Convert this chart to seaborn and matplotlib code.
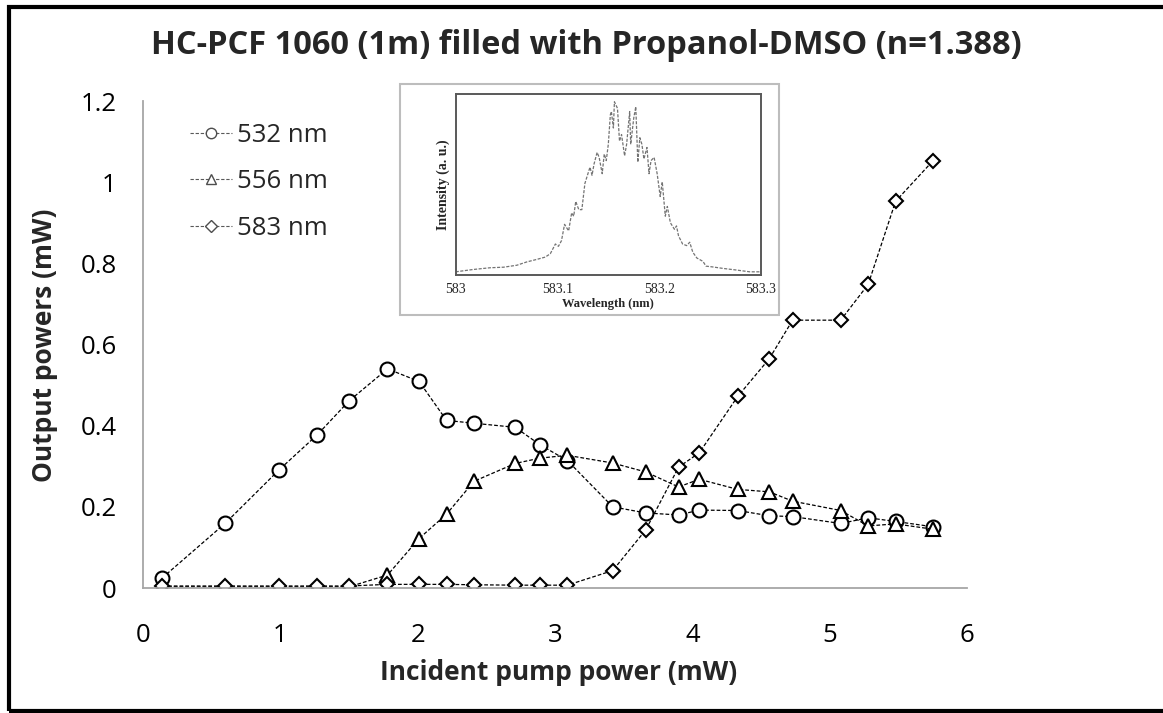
import matplotlib
matplotlib.use("Agg")
import matplotlib.pyplot as plt
from matplotlib.patches import Rectangle
import seaborn as sns
import pandas as pd

# pump power (mW), shared by all three lines
pump = [0.14, 0.60, 0.99, 1.27, 1.50, 1.78, 2.01, 2.21, 2.41, 2.71, 2.89, 3.09,
        3.42, 3.66, 3.90, 4.05, 4.33, 4.56, 4.73, 5.08, 5.28, 5.48, 5.75]
p532 = [0.025, 0.160, 0.291, 0.378, 0.461, 0.540, 0.509, 0.413, 0.406, 0.396, 0.353, 0.314,
        0.200, 0.185, 0.180, 0.192, 0.191, 0.178, 0.176, 0.159, 0.173, 0.164, 0.151]
p556 = [0.003, 0.003, 0.003, 0.003, 0.003, 0.032, 0.122, 0.182, 0.263, 0.307, 0.320, 0.327,
        0.308, 0.286, 0.249, 0.268, 0.243, 0.237, 0.214, 0.191, 0.153, 0.158, 0.145]
p583 = [0.005, 0.005, 0.005, 0.005, 0.005, 0.009, 0.009, 0.009, 0.008, 0.007, 0.007, 0.007,
        0.043, 0.143, 0.298, 0.333, 0.472, 0.565, 0.660, 0.660, 0.748, 0.953, 1.052]
series_names = ["532 nm", "556 nm", "583 nm"]
series_markers = ["o", "^", "D"]
series_sizes = [10, 10, 7.5]

# inset spectrum
wl = [583.000, 583.017, 583.034, 583.047, 583.060, 583.070, 583.079, 583.088, 583.093,
      583.098, 583.101, 583.104, 583.107, 583.111, 583.114, 583.116, 583.118, 583.121,
      583.124, 583.127, 583.129, 583.132, 583.134, 583.136, 583.139, 583.141, 583.144,
      583.146, 583.148, 583.150, 583.152, 583.153, 583.155, 583.156, 583.159, 583.161,
      583.163, 583.166, 583.168, 583.171, 583.172, 583.175, 583.177, 583.179, 583.181,
      583.183, 583.185, 583.188, 583.190, 583.192, 583.195, 583.198, 583.201, 583.203,
      583.206, 583.208, 583.211, 583.215, 583.217, 583.219, 583.223, 583.227, 583.230,
      583.233, 583.237, 583.243, 583.246, 583.252, 583.263, 583.276, 583.289, 583.300]
inten = [0.018, 0.031, 0.041, 0.044, 0.055, 0.074, 0.087, 0.101, 0.120,
         0.175, 0.162, 0.194, 0.286, 0.249, 0.351, 0.332, 0.415, 0.369,
         0.369, 0.517, 0.554, 0.609, 0.563, 0.627, 0.692, 0.664, 0.572,
         0.683, 0.646, 0.738, 0.904, 0.923, 0.830, 0.978, 0.941, 0.756,
         0.793, 0.673, 0.738, 0.923, 0.738, 0.886, 0.950, 0.637, 0.775,
         0.738, 0.655, 0.720, 0.572, 0.646, 0.664, 0.572, 0.443, 0.526,
         0.332, 0.387, 0.295, 0.258, 0.277, 0.221, 0.175, 0.166, 0.185,
         0.129, 0.096, 0.077, 0.050, 0.046, 0.037, 0.028, 0.018, 0.018]

sns.set_style("white")
plt.rcParams["font.family"] = ["Open Sans", "DejaVu Sans"]
serif = ["Liberation Serif", "DejaVu Serif"]

rows = []
for name, vals in zip(series_names, [p532, p556, p583]):
    for x, y in zip(pump, vals):
        rows.append({"pump": x, "power": y, "series": name})
df = pd.DataFrame(rows)

fig = plt.figure(figsize=(11.63, 7.13), dpi=100)
ax = fig.add_axes([0.123, 0.1753, 0.7085, 0.683])

for name, mk, ms in zip(series_names, series_markers, series_sizes):
    sns.lineplot(data=df[df["series"] == name], x="pump", y="power", ax=ax,
                 color="black", lw=0.9, linestyle=(0, (3, 1.6)),
                 marker=mk, markersize=ms, markerfacecolor="white",
                 markeredgecolor="black", markeredgewidth=1.5, label=name)

ax.set_xlim(0, 6)
ax.set_ylim(0, 1.2)
ax.set_xticks(range(0, 7))
ax.set_yticks([0, 0.2, 0.4, 0.6, 0.8, 1.0, 1.2])
ax.set_yticklabels(["0", "0.2", "0.4", "0.6", "0.8", "1", "1.2"])
for s in ["top", "right"]:
    ax.spines[s].set_visible(False)
for s in ["left", "bottom"]:
    ax.spines[s].set_color("#a6a6a6")
    ax.spines[s].set_linewidth(1.3)
ax.tick_params(axis="both", direction="out", length=7, width=1.2, color="#a6a6a6",
               labelsize=18.5, colors="#a6a6a6", labelcolor="black")
ax.tick_params(axis="y", pad=12)
ax.tick_params(axis="x", pad=18)
ax.set_xlabel("Incident pump power (mW)", fontsize=19, fontweight="bold")
ax.set_ylabel("Output powers (mW)", fontsize=19, fontweight="bold")
ax.xaxis.set_label_coords(0.504, -0.1745)
ax.xaxis.label.set_va("center")
ax.yaxis.set_label_coords(-0.119, 0.499)
ax.yaxis.label.set_va("center")

leg = ax.legend(loc="upper left", bbox_to_anchor=(0.045, 0.977), frameon=False,
                fontsize=18.5, handlelength=1.6, handletextpad=0.2, labelspacing=0.85,
                markerscale=0.75, borderaxespad=0)
for h in leg.legend_handles:
    h.set_linewidth(0.8)
    h.set_color("0.35")
    h.set_markeredgecolor("0.3")
    h.set_markeredgewidth(1.0)

fig.text(0.504, 0.9355, "HC-PCF 1060 (1m) filled with Propanol-DMSO (n=1.388)",
         ha="center", va="center", fontsize=23.5, fontweight="bold")

# inset box and spectrum
fig.patches.append(Rectangle((0.344, 0.558), 0.326, 0.324, transform=fig.transFigure,
                             facecolor="white", edgecolor="#bdbdbd", lw=1.5, zorder=1))
ins = fig.add_axes([0.3918, 0.6143, 0.2625, 0.2534], zorder=2)
sns.lineplot(x=wl, y=inten, ax=ins, color="0.45", lw=0.9, linestyle=(0, (2.5, 1.2)))
ins.set_xlim(583.0, 583.3)
ins.set_ylim(0, 1.02)
ins.set_xticks([583.0, 583.1, 583.2, 583.3])
ins.set_xticklabels(["583", "583.1", "583.2", "583.3"])
ins.set_yticks([])
ins.tick_params(axis="x", length=0, pad=6, labelsize=10)
for lab in ins.get_xticklabels():
    lab.set_family(serif)
for s in ins.spines.values():
    s.set_color("#595959")
    s.set_linewidth(1.4)
ins.set_xlabel("Wavelength (nm)", fontsize=9, fontweight="bold", family=serif, labelpad=1)
ins.set_ylabel("Intensity (a. u.)", fontsize=10, fontweight="bold", family=serif, labelpad=4)

# outer black frame (right side falls off the picture)
fig.patches.append(Rectangle((0.0077, 0.0035), 1.0, 0.987, transform=fig.transFigure,
                             fill=False, edgecolor="black", lw=3, zorder=5))

fig.savefig("out.png", dpi=100)
